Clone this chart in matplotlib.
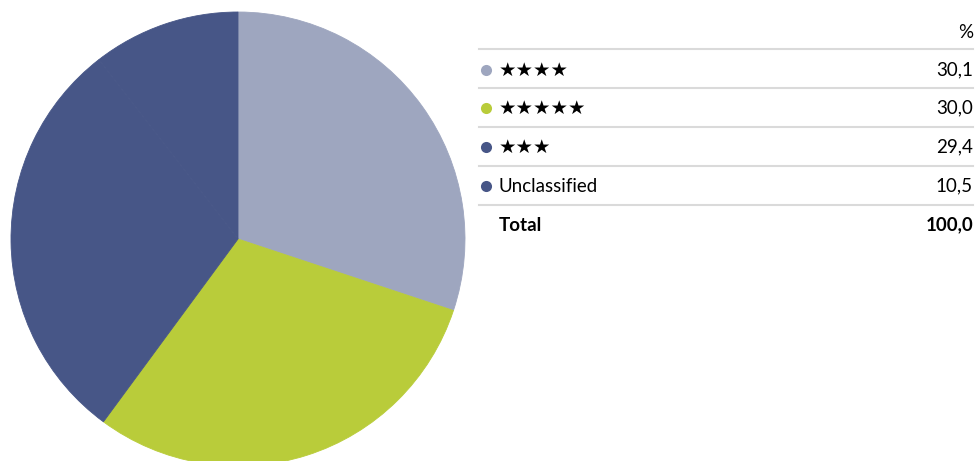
import matplotlib
matplotlib.use('Agg')
import matplotlib.pyplot as plt
from matplotlib.lines import Line2D

categories = ['★★★★', '★★★★★', '★★★', 'Unclassified']
values = [30.1, 30.0, 29.4, 10.5]
colors = ['#9EA6BF', '#B9CC3A', '#475687', '#475687']
total_label = 'Total'
total_value = '100,0'

W, H = 976, 461
fig = plt.figure(figsize=(W / 100, H / 100), dpi=100)

# pie: centre at (238, 239) px, radius 227 px
cx, cy, r = 238, 239, 227
ax = fig.add_axes([(cx - r) / W, (H - cy - r) / H, 2 * r / W, 2 * r / H])
wedges, _ = ax.pie(values, colors=colors, startangle=90, counterclock=False)
for w in wedges:
    # edge in the face colour hides the seam between the two dark slices
    w.set_edgecolor(w.get_facecolor())
    w.set_linewidth(0.6)
ax.set_xlim(-1, 1)
ax.set_ylim(-1, 1)
ax.set_aspect('equal')
ax.axis('off')


def fx(px):
    return px / W


def fy(py):
    return 1 - py / H


fam = ['Lato', 'DejaVu Sans']
fs = 13.5
x0, x1 = 479, 973
line_ys = [49, 88, 127, 166, 205]
row_ys = [70, 108, 147, 186]

fig.text(fx(x1), fy(32), '%', ha='right', va='center', fontsize=fs, family=fam)
for y in line_ys:
    fig.add_artist(Line2D([fx(x0), fx(x1)], [fy(y), fy(y)], color='#DADADA', lw=1.5))

for lab, val, col, y in zip(categories, values, colors, row_ys):
    fig.add_artist(Line2D([fx(486)], [fy(y)], marker='o', markersize=8,
                          color=col, markeredgewidth=0))
    if lab.startswith('★'):
        fig.text(fx(499), fy(y), lab, ha='left', va='center',
                 fontsize=14, family=['DejaVu Sans'])
    else:
        fig.text(fx(499), fy(y), lab, ha='left', va='center', fontsize=fs, family=fam)
    fig.text(fx(x1), fy(y), f'{val:.1f}'.replace('.', ','), ha='right', va='center',
             fontsize=fs, family=fam)

fig.text(fx(499), fy(225), total_label, ha='left', va='center', fontsize=fs,
         family=fam, fontweight='bold')
fig.text(fx(x1), fy(225), total_value, ha='right', va='center', fontsize=fs,
         family=fam, fontweight='bold')

fig.savefig('out.png', dpi=100)
